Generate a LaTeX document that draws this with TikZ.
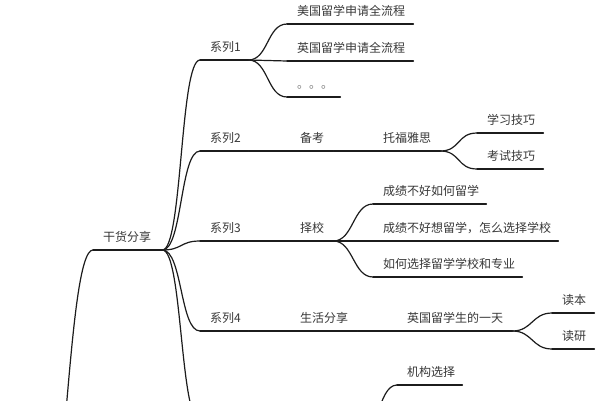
\documentclass[tikz,border=0pt]{standalone}
\usepackage{fontspec}
\setmainfont{Noto Sans CJK SC}
\usetikzlibrary{calc}
\definecolor{txt}{HTML}{383838}
\definecolor{ln}{HTML}{1C1C1C}
\begin{document}
\begin{tikzpicture}[x=1pt,y=-1pt,
  topic/.style={anchor=south west, inner xsep=10pt, inner ysep=0pt,
    text height=10pt, text depth=8.5pt, align=left, text=txt,
    font=\fontsize{12pt}{14pt}\selectfont},
  branch/.style={draw=ln, line width=1.2pt, line cap=round},
  link/.style={to path={.. controls ($(\tikztostart)+(20,0)$) and ($(\tikztotarget)+(-20,0)$) .. (\tikztotarget)}}
]
\useasboundingbox (0,0) rectangle (610,400);
\fill[white] (0,0) rectangle (610,400);
\clip (0,0) rectangle (610,400);

% nodes: (x0, y of underline), text width = x1 - x0 - 20
\node[topic, text width=49pt]  (root) at (93,250)  {干货分享};
\node[topic, text width=28pt]  (s1)   at (200,60)  {系列1};
\node[topic, text width=28pt]  (s2)   at (200,151) {系列2};
\node[topic, text width=28pt]  (s3)   at (200,241) {系列3};
\node[topic, text width=28pt]  (s4)   at (200,331) {系列4};

\node[topic, text width=106pt] (a1) at (287,24) {美国留学申请全流程};
\node[topic, text width=106pt] (a2) at (287,61) {英国留学申请全流程};
\node[topic, text width=33pt, text=gray]  (a3) at (287,97) {。。。};

\node[topic, text width=23pt]  (b1) at (290,151) {备考};
\node[topic, text width=47pt]  (b2) at (373,151) {托福雅思};
\node[topic, text width=46pt]  (b3) at (477,133) {学习技巧};
\node[topic, text width=46pt]  (b4) at (477,169) {考试技巧};

\node[topic, text width=23pt]  (c1) at (290,241) {择校};
\node[topic, text width=93pt]  (c2) at (373,204) {成绩不好如何留学};
\node[topic, text width=165pt] (c3) at (373,241) {成绩不好想留学，怎么选择学校};
\node[topic, text width=129pt] (c4) at (373,277) {如何选择留学学校和专业};

\node[topic, text width=47pt]  (d1) at (290,331) {生活分享};
\node[topic, text width=95pt]  (d2) at (397,331) {英国留学生的一天};
\node[topic, text width=22pt]  (d3) at (552,313) {读本};
\node[topic, text width=22pt]  (d4) at (552,349) {读研};

\node[topic, text width=45pt]  (e1) at (397,385) {机构选择};

% off-picture ends
\coordinate (up) at (40,560);
\coordinate (s5) at (200,421);
\coordinate (lb) at (357,445);

% underlines
\foreach \n in {root,s1,s2,s3,s4,a1,a2,a3,b1,b2,b3,b4,c1,c2,c3,c4,d1,d2,d3,d4,e1}
  \draw[branch] (\n.south west) -- (\n.south east);

% connectors
\draw[branch] (root.south west) .. controls +(-26,0) and +(26,0) .. (up);
\foreach \c in {s1,s2,s3,s4}
  \draw[branch] (root.south east) to[link] (\c.south west);
\draw[branch] (root.south east) to[link] (s5);
\foreach \c in {a1,a2,a3}
  \draw[branch] (s1.south east) to[link] (\c.south west);
\draw[branch] (s2.south east) to[link] (b1.south west);
\draw[branch] (b1.south east) to[link] (b2.south west);
\draw[branch] (b2.south east) to[link] (b3.south west);
\draw[branch] (b2.south east) to[link] (b4.south west);
\draw[branch] (s3.south east) to[link] (c1.south west);
\foreach \c in {c2,c3,c4}
  \draw[branch] (c1.south east) to[link] (\c.south west);
\draw[branch] (s4.south east) to[link] (d1.south west);
\draw[branch] (d1.south east) to[link] (d2.south west);
\draw[branch] (d2.south east) to[link] (d3.south west);
\draw[branch] (d2.south east) to[link] (d4.south west);
\draw[branch] (lb) to[link] (e1.south west);
\end{tikzpicture}
\end{document}
